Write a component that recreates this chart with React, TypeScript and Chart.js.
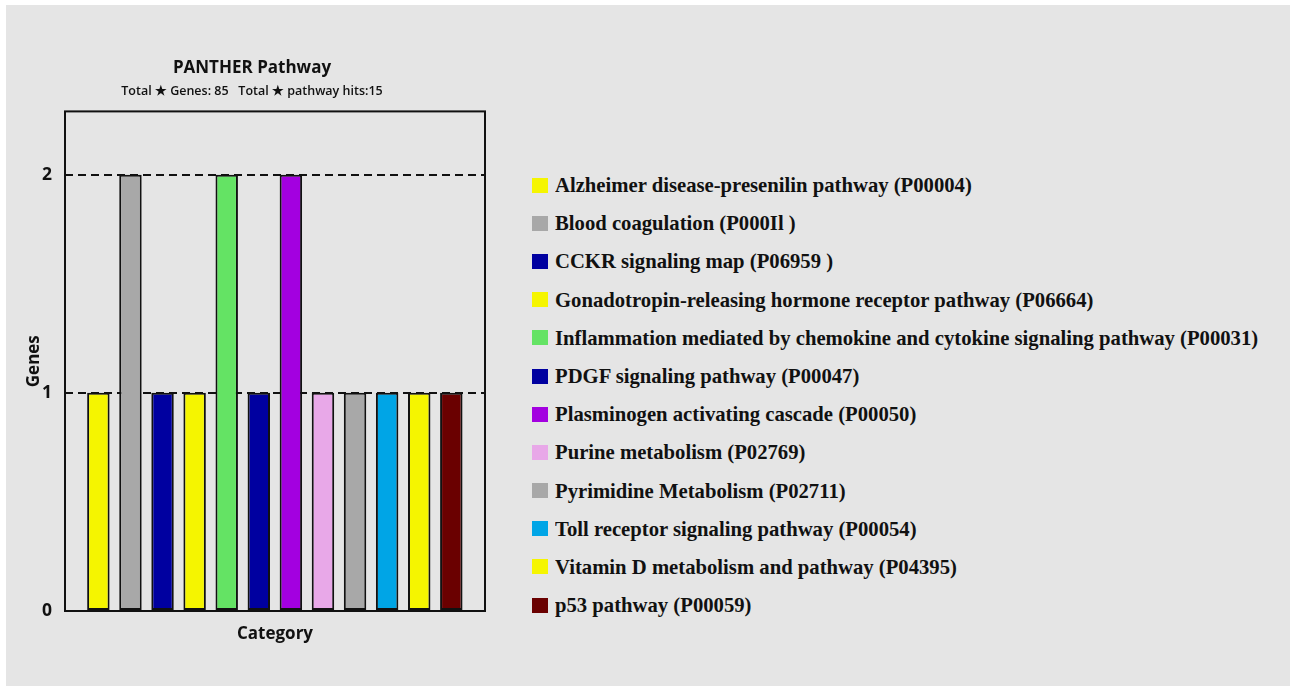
import React, { useEffect, useRef } from "react";
import { Chart, registerables } from "chart.js";

Chart.register(...registerables);

const chartTitle = "PANTHER Pathway";
const chartSubtitle = "Total ★ Genes: 85   Total ★ pathway hits:15";
const xAxisTitle = "Category";
const yAxisTitle = "Genes";

const categories = [
  "Alzheimer disease-presenilin pathway (P00004)",
  "Blood coagulation (P000Il )",
  "CCKR signaling map (P06959 )",
  "Gonadotropin-releasing hormone receptor pathway (P06664)",
  "Inflammation mediated by chemokine and cytokine signaling pathway (P00031)",
  "PDGF signaling pathway (P00047)",
  "Plasminogen activating cascade (P00050)",
  "Purine metabolism (P02769)",
  "Pyrimidine Metabolism (P02711)",
  "Toll receptor signaling pathway (P00054)",
  "Vitamin D metabolism and pathway (P04395)",
  "p53 pathway (P00059)",
];

const geneCounts = [1, 2, 1, 1, 2, 1, 2, 1, 1, 1, 1, 1];

const barColors = [
  "#f5f500",
  "#a8a8a8",
  "#0000a0",
  "#f5f500",
  "#64e364",
  "#0000a0",
  "#a300e0",
  "#e8a8e8",
  "#a8a8a8",
  "#00a5e6",
  "#f5f500",
  "#6a0000",
];

const yTicks = [0, 1, 2];

const plotBox = {
  id: "plotBox",
  afterDatasetsDraw(chart: any) {
    const { ctx, chartArea } = chart;
    const { left, top, right, bottom } = chartArea;
    ctx.save();
    ctx.setLineDash([]);
    ctx.strokeStyle = "#111";
    ctx.lineWidth = 2;
    ctx.strokeRect(left, top, right - left, bottom - top);
    ctx.restore();
  },
};

function PantherChart() {
  const canvasRef = useRef<HTMLCanvasElement | null>(null);

  useEffect(() => {
    if (!canvasRef.current) return;
    const chart = new Chart(canvasRef.current, {
      type: "bar",
      data: {
        labels: categories,
        datasets: [
          {
            label: yAxisTitle,
            data: geneCounts.map((v, i) => ({ x: i + 1, y: v })),
            backgroundColor: barColors,
            borderColor: "#111",
            borderWidth: 2,
            borderSkipped: false,
            categoryPercentage: 1,
            barPercentage: 0.7,
          } as any,
        ],
      },
      options: {
        responsive: true,
        maintainAspectRatio: false,
        animation: false,
        layout: { padding: { left: 13, right: 13, top: 0, bottom: 0 } },
        plugins: {
          legend: { display: false },
          tooltip: { enabled: false },
          title: {
            display: true,
            text: chartTitle,
            color: "#111",
            font: { family: "'Open Sans'", size: 17, weight: "bold" },
            padding: { top: 53, bottom: 0 },
          },
          subtitle: {
            display: true,
            text: chartSubtitle,
            color: "#111",
            font: { family: "'Open Sans'", size: 12.5, weight: "600" },
            padding: { top: 6, bottom: 12 },
          },
        },
        scales: {
          x: {
            type: "linear",
            offset: false,
            min: -0.04,
            max: 13.05,
            grid: { display: false, offset: false },
            border: { display: false },
            ticks: { display: false },
            title: {
              display: true,
              text: xAxisTitle,
              color: "#111",
              font: { family: "'Open Sans'", size: 17, weight: "bold" },
              padding: { top: 0, bottom: 42 },
            },
            afterFit: (s: any) => {
              s.height = 75;
            },
          },
          y: {
            min: 0,
            max: 2.29,
            afterBuildTicks: (s: any) => {
              s.ticks = yTicks.map((v) => ({ value: v }));
            },
            ticks: {
              color: "#111",
              padding: 13,
              font: { family: "'Open Sans'", size: 17.5, weight: "bold" },
            },
            grid: { color: "#111", lineWidth: 2, drawTicks: false },
            border: { display: false, dash: [8, 5] },
            title: {
              display: true,
              text: yAxisTitle,
              color: "#111",
              font: { family: "'Open Sans'", size: 17, weight: "bold" },
              padding: { top: 5, bottom: 0 },
            },
            afterFit: (s: any) => {
              s.width = 46;
            },
          },
        },
      } as any,
      plugins: [plotBox],
    });
    return () => chart.destroy();
  }, []);

  return <canvas ref={canvasRef} />;
}

export default function App() {
  return (
    <div
      style={{
        position: "absolute",
        left: 6,
        top: 5,
        width: 1284,
        height: 681,
        background: "#e5e5e5",
        overflow: "hidden",
      }}
    >
      <div style={{ position: "absolute", left: 0, top: 0, width: 492, height: 681 }}>
        <PantherChart />
      </div>
      <div style={{ position: "absolute", left: 526, top: 161 }}>
        {categories.map((name, i) => (
          <div
            key={name}
            style={{ display: "flex", alignItems: "center", height: 38.2 }}
          >
            <span
              style={{
                display: "inline-block",
                width: 16,
                height: 15,
                background: barColors[i],
                marginRight: 7,
                flex: "none",
              }}
            />
            <span
              style={{
                fontFamily: "'Liberation Serif', 'Times New Roman', serif",
                fontWeight: "bold",
                fontSize: 22,
                lineHeight: "22px",
                color: "#111",
                whiteSpace: "nowrap",
                display: "inline-block",
                transform: "scaleX(0.94)",
                transformOrigin: "left center",
              }}
            >
              {name}
            </span>
          </div>
        ))}
      </div>
    </div>
  );
}
